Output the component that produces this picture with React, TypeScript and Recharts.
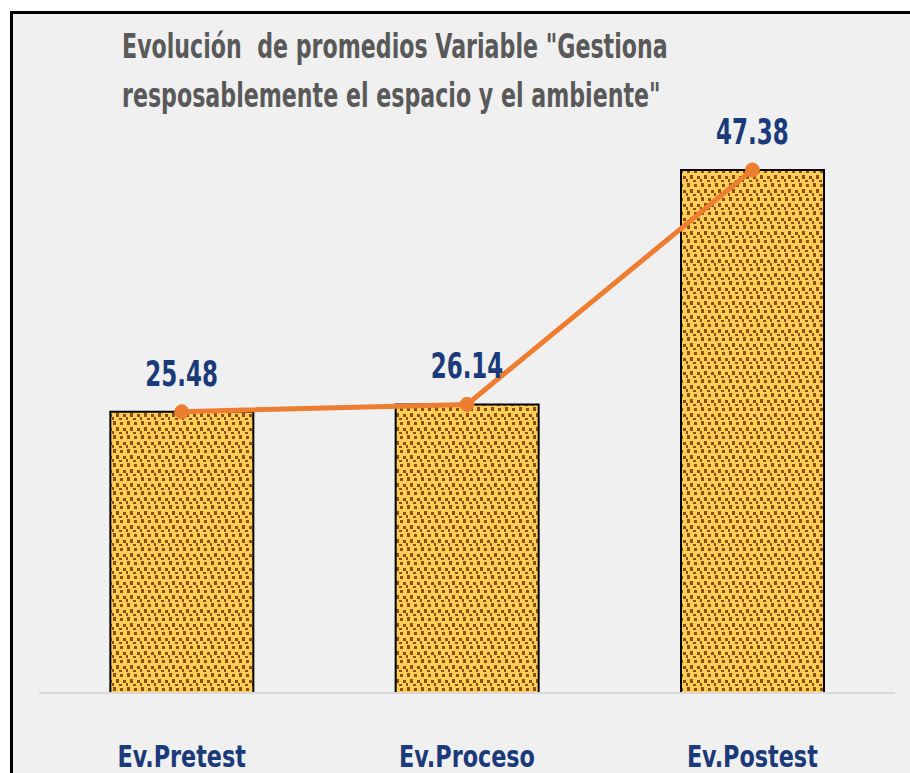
import React from "react";
import { ComposedChart, Bar, Line, XAxis, YAxis, LabelList } from "recharts";

const categories = ["Ev.Pretest", "Ev.Proceso", "Ev.Postest"];
const promedios = [25.48, 26.14, 47.38];
const titleLines = [
  'Evolución  de promedios Variable "Gestiona',
  'resposablemente el espacio y el ambiente"',
];

const data = categories.map((c, i) => ({ name: c, bar: promedios[i], line: promedios[i] }));

const FONT = '"DejaVu Sans Condensed", "DejaVu Sans", sans-serif';
const NAVY = "#1b3a7a";

const Tick = (props: any) => {
  const { x, y, payload } = props;
  return (
    <text
      transform={`translate(${x},${y + 66}) scale(0.8,1)`}
      textAnchor="middle"
      fill={NAVY}
      fontFamily={FONT}
      fontWeight="bold"
      fontSize={31}
    >
      {payload.value}
    </text>
  );
};

const ValueLabel = (props: any) => {
  const { x, y, value } = props;
  return (
    <text
      transform={`translate(${x},${y - 26}) scale(0.71,1)`}
      textAnchor="middle"
      fill={NAVY}
      fontFamily={FONT}
      fontWeight="bold"
      fontSize={36}
    >
      {Number(value).toFixed(2)}
    </text>
  );
};

export default function App() {
  return (
    <div style={{ position: "absolute", left: 0, top: 0, width: 910, height: 773, overflow: "hidden", background: "#ffffff" }}>
      <div
        style={{
          position: "absolute",
          left: 10,
          top: 11,
          width: 900,
          height: 762,
          background: "#f0f0f0",
          borderTop: "3px solid #000",
          borderLeft: "3px solid #000",
          boxSizing: "border-box",
        }}
      />
      <div style={{ position: "absolute", left: 0, top: 0 }}>
        <ComposedChart
          width={910}
          height={773}
          data={data}
          margin={{ top: 141, right: 15, bottom: 20, left: 39 }}
          barCategoryGap="25%"
        >
          <defs>
            <pattern id="dots" width="14" height="14" patternUnits="userSpaceOnUse">
              <rect x="0" y="0" width="14" height="14" fill="#fbcf55" />
              <rect x="1" y="1" width="3" height="4" fill="#8f4c14" />
              <rect x="8" y="2" width="3" height="3" fill="#8f4c14" />
              <rect x="4" y="7" width="3" height="4" fill="#8f4c14" />
              <rect x="11" y="8" width="3" height="3" fill="#8f4c14" />
              <rect x="0" y="11" width="2" height="3" fill="#8f4c14" />
              <rect x="7" y="12" width="3" height="2" fill="#8f4c14" />
            </pattern>
          </defs>
          <XAxis
            dataKey="name"
            height={60}
            axisLine={{ stroke: "#d9d9d9", strokeWidth: 2 }}
            tickLine={false}
            tick={<Tick />}
            interval={0}
          />
          <YAxis hide domain={[0, 50]} />
          <Bar dataKey="bar" fill="url(#dots)" stroke="#000" strokeWidth={2} isAnimationActive={false} />
          <Line
            dataKey="line"
            stroke="#ed7d31"
            strokeWidth={5}
            dot={{ r: 7, fill: "#ed7d31", stroke: "#ed7d31", strokeWidth: 1 }}
            isAnimationActive={false}
          >
            <LabelList dataKey="line" content={<ValueLabel />} />
          </Line>
        </ComposedChart>
      </div>
      <svg width={910} height={130} style={{ position: "absolute", left: 0, top: 0 }}>
        {titleLines.map((t, i) => (
          <text
            key={i}
            transform={`translate(122,${58 + i * 49}) scale(0.724,1)`}
            fill="#595959"
            fontFamily={FONT}
            fontWeight="bold"
            fontSize={34}
            style={{ whiteSpace: "pre" }}
          >
            {t}
          </text>
        ))}
      </svg>
    </div>
  );
}
